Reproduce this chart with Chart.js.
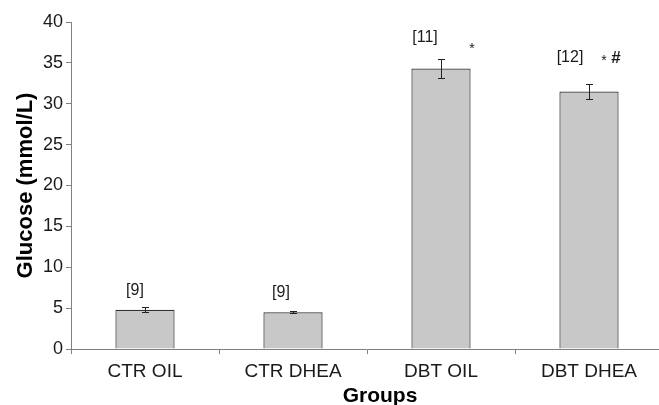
<!DOCTYPE html>
<html>
<head>
<meta charset="utf-8">
<script src="https://cdn.jsdelivr.net/npm/chart.js@4/dist/chart.umd.min.js"></script>
<style>
  html, body { margin: 0; padding: 0; background: #fff; overflow: hidden; }
  #wrap { position: absolute; left: 0; top: 0; width: 663px; height: 408px; }
</style>
</head>
<body>
<div id="wrap"><canvas id="c"></canvas></div>
<script>
// Blood glucose per group (mean ± SEM), with group size n and significance marks
const groups = ['CTR OIL', 'CTR DHEA', 'DBT OIL', 'DBT DHEA'];
const glucose = [4.8, 4.5, 34.3, 31.5];
const sem = [0.3, 0.15, 1.15, 0.95];
const sampleSizes = ['[9]', '[9]', '[11]', '[12]'];
const significance = ['', '', '*', '* #'];
const yTicks = [0, 5, 10, 15, 20, 25, 30, 35, 40];

const FONT = '"Liberation Sans", Arial, sans-serif';
const TEXT = '#1a1a1a';
const AXIS = '#808080';

// pixel offsets of the annotation text from the top of each whisker
const nLabelOffset = [[-10, -16], [-12, -18], [-16, -21], [-19, -26]];

// Draws error whiskers, the n / significance labels and the x-axis title
const annotations = {
  id: 'annotations',
  afterDatasetsDraw(chart) {
    const { ctx, scales, chartArea } = chart;
    const y = scales.y;
    const meta = chart.getDatasetMeta(0);
    ctx.save();
    meta.data.forEach((bar, i) => {
      const cx = Math.round(bar.x);
      const top = Math.round(y.getPixelForValue(glucose[i] + sem[i]));
      const bot = Math.round(y.getPixelForValue(glucose[i] - sem[i]));
      ctx.strokeStyle = '#222';
      ctx.lineWidth = 1;
      ctx.beginPath();
      ctx.moveTo(cx + 0.5, top); ctx.lineTo(cx + 0.5, bot);
      ctx.moveTo(cx - 3, top + 0.5); ctx.lineTo(cx + 4, top + 0.5);
      ctx.moveTo(cx - 3, bot + 0.5); ctx.lineTo(cx + 4, bot + 0.5);
      ctx.stroke();

      const [dx, dy] = nLabelOffset[i];
      ctx.fillStyle = TEXT;
      ctx.font = '16px ' + FONT;
      ctx.textAlign = 'center';
      ctx.textBaseline = 'middle';
      ctx.fillText(sampleSizes[i], cx + dx, top + dy);
      if (significance[i] === '*') {
        ctx.font = '14px ' + FONT;
        ctx.fillText('*', cx + 31, top - 10);
      } else if (significance[i]) {
        ctx.font = '14px ' + FONT;
        ctx.fillText('*', cx + 15, top - 23);
        ctx.font = 'bold 17px ' + FONT;
        ctx.fillText('#', cx + 27, top - 26);
      }
    });

    ctx.fillStyle = '#000';
    ctx.font = 'bold 21px ' + FONT;
    ctx.textAlign = 'center';
    ctx.textBaseline = 'alphabetic';
    ctx.fillText('Groups', (chartArea.left + chartArea.right) / 2 + 13, 402);
    ctx.restore();
  }
};

new Chart(document.getElementById('c'), {
  type: 'bar',
  data: {
    labels: groups,
    datasets: [{
      data: glucose,
      backgroundColor: '#c8c8c8',
      borderColor: '#333333',
      borderWidth: 1.2,
      barPercentage: 0.8,
      categoryPercentage: 0.5
    }]
  },
  plugins: [annotations],
  options: {
    responsive: true,
    maintainAspectRatio: false,
    animation: false,
    devicePixelRatio: 1,
    layout: { padding: { top: 22, left: 0, right: 0, bottom: 0 } },
    plugins: { legend: { display: false }, tooltip: { enabled: false } },
    scales: {
      x: {
        offset: true,
        grid: { offset: true, drawOnChartArea: false, drawTicks: true, tickLength: 5, color: AXIS },
        border: { color: AXIS, width: 1 },
        ticks: { color: TEXT, font: { family: FONT, size: 19 }, padding: 6 },
        afterFit(s) { s.height = 59; }
      },
      y: {
        min: 0, max: 40,
        afterBuildTicks(s) { s.ticks = yTicks.map(v => ({ value: v })); },
        grid: { drawOnChartArea: false, drawTicks: true, tickLength: 5, color: AXIS },
        border: { color: AXIS, width: 1 },
        ticks: { color: TEXT, font: { family: FONT, size: 18 }, padding: 3 },
        title: { display: true, text: 'Glucose (mmol/L)', color: '#000', font: { family: FONT, size: 22, weight: 'bold' }, padding: { top: 13, bottom: 0 } },
        afterFit(s) { s.width = 71; }
      }
    }
  }
});
</script>
</body>
</html>
